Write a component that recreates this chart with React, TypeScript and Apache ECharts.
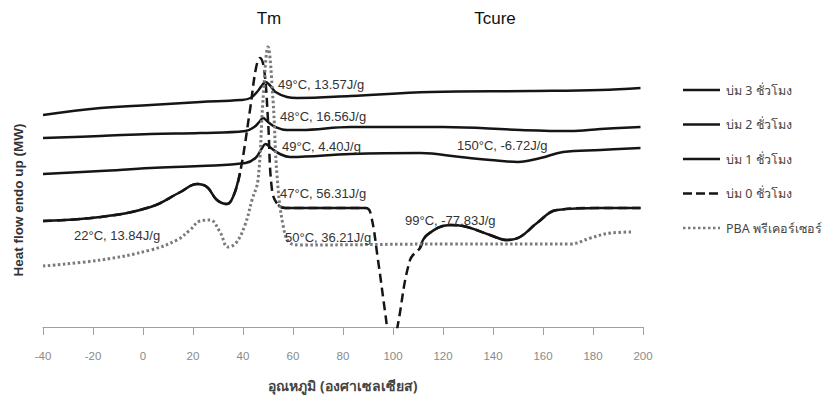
import React, { useEffect, useRef } from "react";
import * as echarts from "echarts";

// Legend / series names
const seriesNames = [
  "บ่ม 3 ชั่วโมง",
  "บ่ม 2 ชั่วโมง",
  "บ่ม 1 ชั่วโมง",
  "บ่ม 0 ชั่วโมง",
  "PBA พรีเคอร์เซอร์",
];

// Temperature axis
const xMin = -40;
const xMax = 200;
const xStep = 20;

// Curves: [temperature °C, heat flow (arbitrary, endo up)]
const cure3h: [number, number][] = [
  [-40, 21.2], [-17, 21.9], [3, 22.2], [23, 22.5], [39, 22.7], [43, 22.9],
  [45.6, 23.5], [47.4, 24.1], [49, 24.5], [51, 24.1], [53, 23.5], [57.6, 23.0],
  [61.6, 22.9], [83, 23.1], [115, 23.5], [155, 23.6], [183, 23.7], [199, 23.9],
];

const cure2h: [number, number][] = [
  [-40, 18.9], [-17, 19.1], [3, 19.3], [23, 19.4], [41, 19.6], [44.5, 20.0],
  [46.5, 20.5], [48, 20.9], [50, 20.5], [53, 20.0], [57.6, 19.7], [63, 19.7],
  [83, 20.0], [120, 20.0], [151, 19.7], [171, 19.6], [183, 19.8], [199, 20.0],
];

const cure1h: [number, number][] = [
  [-40, 15.3], [-17, 15.6], [3, 15.9], [23, 16.1], [41, 16.4], [45, 16.9],
  [47.4, 17.8], [49, 18.3], [51.2, 17.9], [54.8, 17.3], [58.8, 17.0], [83, 17.3],
  [111, 17.4], [127, 17.0], [139, 16.7], [150, 16.5], [159, 16.9], [168, 17.5],
  [183, 17.7], [199, 17.9],
];

const cure0h: [number, number][] = [
  [-40, 10.6], [-17, 11.0], [3, 12.0], [15, 13.5], [21.6, 14.3], [25.6, 14.0],
  [29.6, 12.7], [33.6, 12.3], [36, 13.0], [38.8, 15.4], [42.8, 21.7], [45.2, 25.9],
  [46.8, 26.9], [48.4, 25.9], [50, 20.7], [51.6, 13.7], [54, 12.2], [56.8, 11.9],
  [63, 11.9], [89, 11.9], [91, 11.4], [94, 6.7], [97, 1.2], [99.5, -3.0],
  [102, 0.3], [106.8, 6.7], [110.8, 7.9], [113.6, 9.2], [122.8, 10.2], [128, 10.1],
  [138.8, 9.2], [145.6, 8.7], [150.8, 9.0], [157.6, 10.4], [165.6, 11.7],
  [182.8, 11.9], [199, 11.9],
];

const pba: [number, number][] = [
  [-40, 6.1], [-17, 6.7], [3, 7.7], [13.6, 8.7], [18.8, 9.7], [22.8, 10.6],
  [26.8, 10.7], [30.8, 9.5], [34, 8.0], [37.2, 8.4], [40.8, 10.2], [43.6, 12.7],
  [46, 14.7], [48, 22.7], [50, 28.0], [52, 22.7], [53.6, 15.2], [56, 10.2],
  [58.8, 8.4], [63, 8.2], [123, 8.3], [171, 8.3], [179, 8.9], [187, 9.4], [196, 9.5],
];

// Peak / transition annotations
const annotations = [
  "49°C, 13.57J/g",
  "48°C, 16.56J/g",
  "49°C, 4.40J/g",
  "47°C, 56.31J/g",
  "50°C, 36.21J/g",
  "22°C, 13.84J/g",
  "99°C, -77.83J/g",
  "150°C, -6.72J/g",
];
const headers = ["Tm", "Tcure"];
const xTitle = "อุณหภูมิ (องศาเซลเซียส)";
const yTitle = "Heat flow endo up (MW)";

const FONT = '"Liberation Sans", Arial, "Noto Sans", sans-serif';
const THAI = '"Noto Sans", "DejaVu Sans", "Liberation Sans", sans-serif';

const INK = "#151515";
const GREY = "#7a7a7a";

export default function App() {
  const ref = useRef<HTMLDivElement>(null);

  useEffect(() => {
    if (!ref.current) return;
    const chart = echarts.init(ref.current, undefined, { renderer: "svg" });

    // solid overlay on the gently sloped parts of the 0 h curve
    const isSteep = (t: number) => (t > 38.8 && t < 54) || (t > 89 && t < 110.8);
    const solid0h = cure0h.map(([t, v]) => [t, isSteep(t) ? null : v]);

    const annPos = [
      [278, 84], [280, 116], [282, 146], [280, 193],
      [285, 237], [74, 235], [405, 220], [457, 145],
    ];
    const headPos = [[269, 18], [495, 18]];

    const graphic: any[] = [];
    annotations.forEach((t, i) => {
      graphic.push({
        type: "text",
        x: annPos[i][0],
        y: annPos[i][1],
        z: 10,
        style: { text: t, font: `13px ${FONT}`, fill: "#333", verticalAlign: "middle" },
      });
    });
    headers.forEach((t, i) => {
      graphic.push({
        type: "text",
        x: headPos[i][0],
        y: headPos[i][1],
        style: { text: t, font: `17px ${FONT}`, fill: "#111", align: "center", verticalAlign: "middle" },
      });
    });
    graphic.push({
      type: "text",
      x: 18,
      y: 200,
      rotation: Math.PI / 2,
      style: {
        text: yTitle,
        font: `bold 13.5px ${FONT}`,
        fill: "#333",
        align: "center",
        verticalAlign: "middle",
      },
    });

    // legend drawn as line samples + labels
    const legendStyles = [
      { stroke: INK, lineWidth: 2.5 },
      { stroke: INK, lineWidth: 2.5 },
      { stroke: INK, lineWidth: 2.5 },
      { stroke: INK, lineWidth: 2.5, lineDash: [9, 4] },
      { stroke: GREY, lineWidth: 2.5, lineDash: [2.5, 2.5] },
    ];
    seriesNames.forEach((name, i) => {
      const y = 90 + i * 34.5;
      graphic.push({
        type: "line",
        shape: { x1: 683, y1: y, x2: 720, y2: y },
        style: legendStyles[i],
      });
      graphic.push({
        type: "text",
        x: 726,
        y,
        style: { text: name, font: `12.5px ${THAI}`, fill: "#444", verticalAlign: "middle" },
      });
    });

    const base = { type: "line", symbol: "none", smooth: 0.4, animation: false };

    chart.setOption({
      animation: false,
      grid: { left: 43, right: 196, top: 40, bottom: 76, containLabel: false },
      xAxis: {
        type: "value",
        min: xMin,
        max: xMax,
        interval: xStep,
        axisLine: { lineStyle: { color: "#a0a0a0", width: 1 } },
        axisTick: { show: true, length: 8, lineStyle: { color: "#a0a0a0" } },
        axisLabel: { color: "#8a8a8a", fontSize: 11.5, margin: 23, fontFamily: FONT },
        splitLine: { show: false },
        name: xTitle,
        nameLocation: "middle",
        nameGap: 51,
        nameTextStyle: { color: "#444", fontSize: 14, fontWeight: "bold", fontFamily: THAI },
      },
      yAxis: { type: "value", min: 0, max: 28.7, show: false },
      legend: { show: false },
      graphic,
      series: [
        { ...base, name: seriesNames[0], data: cure3h, itemStyle: { color: INK }, lineStyle: { color: INK, width: 2.5 } },
        { ...base, name: seriesNames[1], data: cure2h, itemStyle: { color: INK }, lineStyle: { color: INK, width: 2.5 } },
        { ...base, name: seriesNames[2], data: cure1h, itemStyle: { color: INK }, lineStyle: { color: INK, width: 2.5 } },
        { ...base, name: seriesNames[3], data: cure0h, itemStyle: { color: INK }, lineStyle: { color: INK, width: 2.5, type: [9, 5] } },
        { ...base, name: "_solid0h", data: solid0h, connectNulls: false, itemStyle: { color: INK }, lineStyle: { color: INK, width: 2.5 } },
        { ...base, name: seriesNames[4], data: pba, itemStyle: { color: GREY }, lineStyle: { color: GREY, width: 3, type: [2.5, 2.5] } },
      ],
    });

    return () => chart.dispose();
  }, []);

  return <div ref={ref} style={{ position: "fixed", left: 0, top: 0, width: 839, height: 403, background: "#fff" }} />;
}
